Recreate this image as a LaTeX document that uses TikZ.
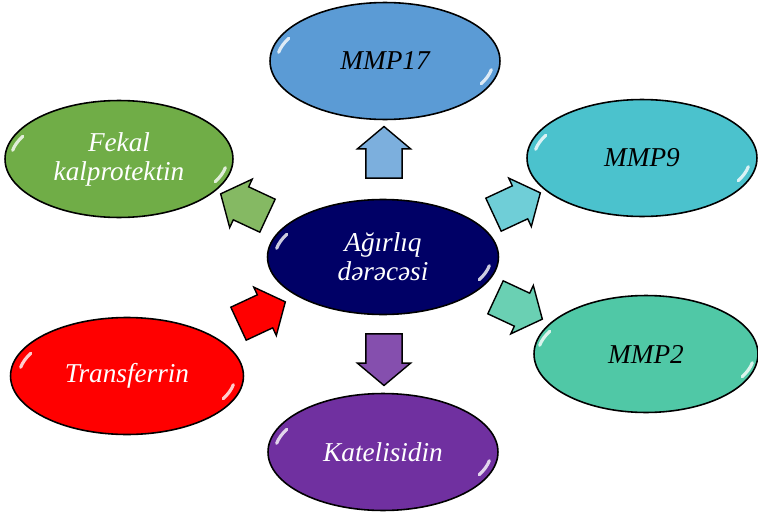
\documentclass[tikz,border=0pt]{standalone}
\usepackage{fontspec}
\setmainfont{Liberation Serif}
\usetikzlibrary{shapes.geometric,shapes.arrows}

\definecolor{mmpblue}{HTML}{5B9BD5}
\definecolor{mmpcyan}{HTML}{4BC2CD}
\definecolor{mmpteal}{HTML}{50C8A6}
\definecolor{katpurple}{HTML}{7030A0}
\definecolor{trred}{HTML}{FF0000}
\definecolor{fkgreen}{HTML}{70AD47}
\definecolor{navy}{HTML}{000066}

\tikzset{
  bubble/.style={ellipse, draw=black, line width=0.9pt, fill=#1,
    minimum width=4.6cm, minimum height=2.34cm, inner sep=0pt, align=center,
    font=\fontsize{15.5}{16.5}\selectfont\itshape,
    path picture={
      \draw[white, opacity=0.8, line width=1.8pt, line cap=round]
        (path picture bounding box.center) ++(153:2.16cm and 1.0cm)
        arc[start angle=153, end angle=170, x radius=2.16cm, y radius=1.0cm];
      \draw[white, opacity=0.8, line width=1.8pt, line cap=round]
        (path picture bounding box.center) ++(-27:2.16cm and 1.0cm)
        arc[start angle=-27, end angle=-10, x radius=2.16cm, y radius=1.0cm];
    }},
  blockarrow/.style={single arrow, draw=black, line width=0.8pt, fill=#1,
    minimum height=0.94cm, inner sep=0.35cm, single arrow head extend=0.17cm,
    single arrow tip angle=100}
}

\begin{document}
\begin{tikzpicture}[x=0.02cm, y=-0.02cm]
    \useasboundingbox (0,0) rectangle (758,514);
    % ellipses
    \node[bubble=navy, text=white, minimum width=4.62cm, minimum height=2.3cm] (grade) at (383,257) {Ağırlıq\\dərəcəsi};
    \node[bubble=mmpblue] (mmp17) at (385,61) {MMP17};
    \node[bubble=mmpcyan] (mmp9) at (642,158) {MMP9};
    \node[bubble=mmpteal, minimum width=4.48cm] (mmp2) at (646,354) {MMP2};
    \node[bubble=katpurple, text=white] (kat) at (383,452) {Katelisidin};
    \node[bubble=trred, text=white, minimum width=4.66cm] (trans) at (127,376) {Transferrin};
    \node[bubble=fkgreen, text=white, minimum width=4.56cm] (fekal) at (119,159) {Fekal\\kalprotektin};
    % arrows
    \node[blockarrow=mmpblue!80!white, rotate=90] (toMMP17) at (384,160) {};
    \node[blockarrow=mmpcyan!80!white, rotate=25] (toMMP9) at (510,207) {};
    \node[blockarrow=mmpteal!85!white, rotate=-25] (toMMP2) at (512,305) {};
    \node[blockarrow=katpurple!85!white, rotate=-90] (toKat) at (384,352) {};
    \node[blockarrow=trred, rotate=25] (fromTrans) at (255,316) {};
    \node[blockarrow=fkgreen!85!white, rotate=155] (toFekal) at (251,208) {};
\end{tikzpicture}
\end{document}
